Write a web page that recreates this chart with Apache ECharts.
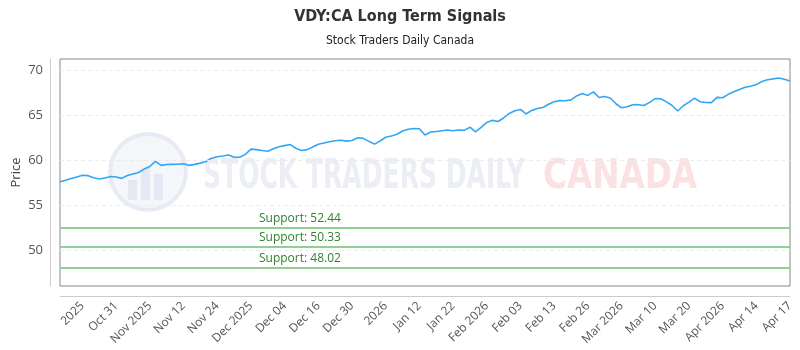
<!DOCTYPE html>
<html>
<head>
<meta charset="utf-8">
<script src="https://cdn.jsdelivr.net/npm/echarts@6/dist/echarts.min.js"></script>
<style>html,body{margin:0;padding:0;background:#fff}#c{width:800px;height:350px}</style>
</head>
<body>
<div id="c"></div>
<script>
const titleText = 'VDY:CA Long Term Signals';
const subtitleText = 'Stock Traders Daily Canada';
const tickLabels = ['2025','Oct 31','Nov 2025','Nov 12','Nov 24','Dec 2025','Dec 04','Dec 16','Dec 30','2026','Jan 12','Jan 22','Feb 2026','Feb 03','Feb 13','Feb 26','Mar 2026','Mar 10','Mar 20','Apr 2026','Apr 14','Apr 17'];
const firstTickIndex = 4;
const tickStep = 6;
const prices = [
57.58,57.75,57.93,58.11,58.29,58.25,58.02,57.88,57.98,58.15,
58.10,57.95,58.26,58.43,58.60,58.98,59.27,59.83,59.39,59.49,
59.50,59.51,59.56,59.39,59.50,59.64,59.82,60.19,60.35,60.43,
60.54,60.29,60.30,60.61,61.19,61.14,61.05,60.95,61.24,61.45,
61.58,61.70,61.29,61.05,61.14,61.43,61.74,61.87,62.02,62.12,
62.18,62.08,62.15,62.45,62.39,62.06,61.75,62.10,62.51,62.66,
62.85,63.20,63.41,63.49,63.46,62.76,63.10,63.16,63.24,63.31,
63.23,63.31,63.28,63.63,63.10,63.62,64.16,64.39,64.26,64.65,
65.16,65.46,65.60,65.10,65.49,65.71,65.81,66.18,66.45,66.58,
66.57,66.66,67.10,67.36,67.16,67.55,66.93,67.04,66.87,66.23,
65.78,65.89,66.12,66.13,66.04,66.38,66.81,66.79,66.44,66.04,
65.43,66.01,66.41,66.85,66.45,66.37,66.36,66.94,66.90,67.28,
67.56,67.81,68.07,68.18,68.36,68.71,68.90,68.99,69.09,68.96,
68.76];
const supportLevels = [52.44, 50.33, 48.02];
const yTickValues = [50, 55, 60, 65, 70];

const categories = prices.map((_, i) => String(i));
const isTick = i => i >= firstTickIndex && (i - firstTickIndex) % tickStep === 0;

const wmFont = 'bold 40px "DejaVu Sans Condensed"';
function textScale(text, target) {
  const ctx = document.createElement('canvas').getContext('2d');
  ctx.font = wmFont;
  return target / ctx.measureText(text).width;
}
const wm1 = 'STOCK TRADERS DAILY', wm2 = 'CANADA';

const chart = echarts.init(document.getElementById('c'), null, {renderer: 'canvas'});
chart.setOption({
  animation: false,
  title: {
    text: titleText,
    subtext: subtitleText,
    left: 'center',
    top: 4,
    itemGap: 10,
    textStyle: {fontFamily: 'DejaVu Sans Condensed', fontWeight: 'bold', fontSize: 16, color: '#333'},
    subtextStyle: {fontFamily: 'DejaVu Sans Condensed', fontSize: 12, color: '#222'}
  },
  graphic: [
    {type: 'circle', shape: {cx: 148, cy: 172, r: 38}, style: {fill: 'rgba(230,234,244,0.45)', stroke: 'rgba(222,228,240,0.7)', lineWidth: 4}, z: -10, silent: true},
    {type: 'rect', shape: {x: 128, y: 180, width: 9, height: 20}, style: {fill: 'rgba(218,224,238,0.6)'}, z: -9, silent: true},
    {type: 'rect', shape: {x: 141, y: 168, width: 9, height: 32}, style: {fill: 'rgba(218,224,238,0.6)'}, z: -9, silent: true},
    {type: 'rect', shape: {x: 154, y: 174, width: 9, height: 26}, style: {fill: 'rgba(218,224,238,0.6)'}, z: -9, silent: true},
    {type: 'text', x: 203, y: 178, scaleX: textScale(wm1, 322), style: {text: wm1, font: wmFont, fill: 'rgba(222,227,238,0.6)', textVerticalAlign: 'middle'}, z: -10, silent: true},
    {type: 'text', x: 543, y: 178, scaleX: textScale(wm2, 154), style: {text: wm2, font: wmFont, fill: 'rgba(250,212,212,0.7)', textVerticalAlign: 'middle'}, z: -10, silent: true}
  ],
  grid: {left: 60, right: 10, top: 59, bottom: 64, show: true, borderColor: '#888', borderWidth: 1, backgroundColor: 'transparent', outerBoundsMode: 'none', containLabel: false},
  xAxis: {
    type: 'category',
    data: categories,
    boundaryGap: false,
    offset: 10,
    axisLine: {show: true, lineStyle: {color: '#ccc'}},
    axisTick: {show: false},
    splitLine: {show: false},
    axisLabel: {
      rotate: 45,
      margin: 8,
      fontSize: 12,
      fontFamily: 'Open Sans',
      color: '#555',
      interval: (i) => isTick(i),
      formatter: (v, i) => isTick(i) ? tickLabels[(i - firstTickIndex) / tickStep] : ''
    }
  },
  yAxis: {
    type: 'value',
    min: 46,
    max: 71.2,
    offset: 10,
    name: 'Price',
    nameLocation: 'middle',
    nameGap: 27,
    nameMoveOverlap: false,
    nameTextStyle: {fontSize: 13, color: '#444', fontFamily: 'Open Sans'},
    axisLine: {show: true, lineStyle: {color: '#ccc'}},
    axisTick: {show: false, customValues: yTickValues},
    axisLabel: {customValues: yTickValues, fontSize: 13, color: '#555', fontFamily: 'Open Sans', margin: 7},
    splitLine: {show: false}
  },
  series: [{
    type: 'line',
    data: prices,
    showSymbol: false,
    lineStyle: {color: '#33a6f3', width: 1.6},
    itemStyle: {color: '#33a6f3'},
    markLine: {
      silent: true,
      symbol: 'none',
      animation: false,
      data: yTickValues.map(v => ({yAxis: v, lineStyle: {color: '#ebebeb', type: [4, 3], width: 1}, label: {show: false}}))
        .concat(supportLevels.map(v => ({
          yAxis: v,
          lineStyle: {color: '#92d092', type: 'solid', width: 2},
          label: {show: true, position: 'insideStartTop', distance: [199, 3], formatter: 'Support: ' + v.toFixed(2), color: '#2f7f2f', fontSize: 12, fontFamily: 'Open Sans'}
        })))
    }
  }]
});
</script>
</body>
</html>
